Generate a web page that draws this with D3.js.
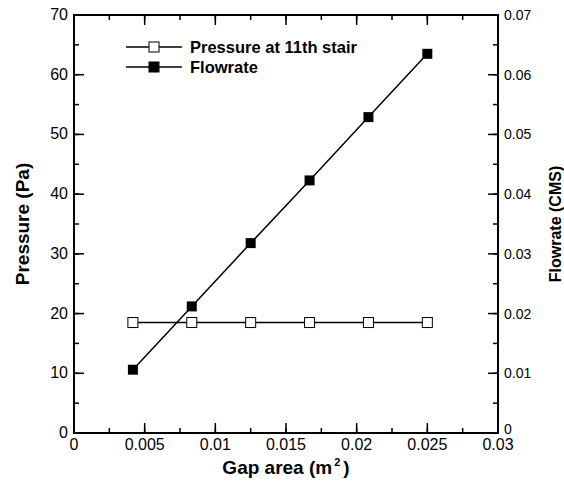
<!DOCTYPE html>
<html>
<head>
<meta charset="utf-8">
<script src="https://cdn.jsdelivr.net/npm/d3@7"></script>
<style>
  body { margin: 0; background: #fff; }
  svg { display: block; }
</style>
</head>
<body>
<div id="chart"></div>
<script>
  // Data
  var gapArea = [0.004167, 0.008333, 0.0125, 0.016667, 0.020833, 0.025];
  var pressure = [18.5, 18.5, 18.5, 18.5, 18.5, 18.5];
  var flowrate = [0.0106, 0.0212, 0.0318, 0.0423, 0.0529, 0.0635];
  var xTicks = [0, 0.005, 0.01, 0.015, 0.02, 0.025, 0.03];
  var yTicks = [0, 10, 20, 30, 40, 50, 60, 70];
  var y2Ticks = [0, 0.01, 0.02, 0.03, 0.04, 0.05, 0.06, 0.07];
  var seriesNames = ["Pressure at 11th stair", "Flowrate"];

  var W = 564, H = 483,
      margin = {top: 15, right: 66, bottom: 50, left: 74},
      width = W - margin.left - margin.right,
      height = H - margin.top - margin.bottom,
      font = "'Liberation Sans', Arial, Helvetica, sans-serif";

  var svg = d3.select("#chart").append("svg")
    .attr("width", W)
    .attr("height", H);

  var g = svg.append("g")
    .attr("transform", "translate(" + margin.left + "," + margin.top + ")");

  var x = d3.scaleLinear().domain([0, 0.03]).range([0, width]);
  var y = d3.scaleLinear().domain([0, 70]).range([height, 0]);
  var y2 = d3.scaleLinear().domain([0, 0.07]).range([height, 0]);

  // minor tick values
  var xMinor = d3.range(0, 13).map(function(i){ return i*0.0025; });
  var yMinor = d3.range(0, 15).map(function(i){ return i*5; });

  // ticks, drawn inward on all four sides
  function ticks(vals, len, side) {
    g.append("g").selectAll("line")
      .data(vals)
      .enter().append("line")
      .attr("x1", function(d){ return side == "b" || side == "t" ? x(d) : (side == "l" ? 0 : width); })
      .attr("x2", function(d){ return side == "b" || side == "t" ? x(d) : (side == "l" ? len : width - len); })
      .attr("y1", function(d){ return side == "l" || side == "r" ? y(d) : (side == "b" ? height : 0); })
      .attr("y2", function(d){ return side == "l" || side == "r" ? y(d) : (side == "b" ? height - len : len); })
      .attr("stroke", "#000")
      .attr("stroke-width", 1.5);
  }
  ticks(xMinor, 5, "b"); ticks(xTicks, 10, "b");
  ticks(xMinor, 5, "t"); ticks(xTicks, 10, "t");
  ticks(yMinor, 5, "l"); ticks(yTicks, 10, "l");
  ticks(yMinor, 5, "r"); ticks(yTicks, 10, "r");

  // frame
  g.append("rect")
    .attr("width", width)
    .attr("height", height)
    .attr("fill", "none")
    .attr("stroke", "#000")
    .attr("stroke-width", 2);

  // tick labels
  g.append("g").selectAll("text")
    .data(xTicks)
    .enter().append("text")
    .attr("x", function(d){ return x(d); })
    .attr("y", height + 17)
    .attr("text-anchor", "middle")
    .attr("font-family", font)
    .attr("font-size", 16)
    .text(function(d){ return d3.format("")(d); });

  g.append("g").selectAll("text")
    .data(yTicks)
    .enter().append("text")
    .attr("x", -6)
    .attr("y", function(d){ return y(d) + 5; })
    .attr("text-anchor", "end")
    .attr("font-family", font)
    .attr("font-size", 16)
    .text(function(d){ return d; });

  g.append("g").selectAll("text")
    .data(y2Ticks)
    .enter().append("text")
    .attr("x", width + 6)
    .attr("y", function(d){ return y2(d) + (d == 0 ? 1 : 5); })
    .attr("font-family", font)
    .attr("font-size", 14)
    .text(function(d){ return d3.format("")(+d.toFixed(2)); });

  // axis titles
  svg.append("text")
    .attr("transform", "translate(29," + (margin.top + height/2) + ") rotate(-90)")
    .attr("text-anchor", "middle")
    .attr("font-family", font)
    .attr("font-size", 19)
    .attr("font-weight", "bold")
    .text("Pressure (Pa)");

  svg.append("text")
    .attr("transform", "translate(561," + (margin.top + height/2) + ") rotate(-90)")
    .attr("text-anchor", "middle")
    .attr("font-family", font)
    .attr("font-size", 16)
    .attr("font-weight", "bold")
    .text("Flowrate (CMS)");

  var xt = svg.append("text")
    .attr("x", margin.left + width/2)
    .attr("y", 474)
    .attr("text-anchor", "middle")
    .attr("font-family", font)
    .attr("font-size", 19)
    .attr("font-weight", "bold");
  xt.append("tspan").text("Gap area (m");
  xt.append("tspan").attr("font-size", 11).attr("dy", -8).attr("dx", 2).text("2");
  xt.append("tspan").attr("dy", 8).attr("dx", 3).text(")");

  // series
  var line = d3.line();
  var pData = gapArea.map(function(d, i){ return [x(d), y(pressure[i])]; });
  var fData = gapArea.map(function(d, i){ return [x(d), y2(flowrate[i])]; });

  g.append("path").attr("d", line(pData)).attr("fill", "none").attr("stroke", "#000").attr("stroke-width", 1.5);
  g.append("path").attr("d", line(fData)).attr("fill", "none").attr("stroke", "#000").attr("stroke-width", 1.5);

  var ms = 10;
  g.append("g").selectAll("rect")
    .data(pData)
    .enter().append("rect")
    .attr("x", function(d){ return d[0] - ms/2; })
    .attr("y", function(d){ return d[1] - ms/2; })
    .attr("width", ms).attr("height", ms)
    .attr("fill", "#fff").attr("stroke", "#000").attr("stroke-width", 1);

  g.append("g").selectAll("rect")
    .data(fData)
    .enter().append("rect")
    .attr("x", function(d){ return d[0] - ms/2; })
    .attr("y", function(d){ return d[1] - ms/2; })
    .attr("width", ms).attr("height", ms)
    .attr("fill", "#000");

  // legend
  var legend = svg.append("g").attr("transform", "translate(126,47)");
  var rows = legend.selectAll("g")
    .data(seriesNames)
    .enter().append("g")
    .attr("transform", function(d, i){ return "translate(0," + (i*20) + ")"; });

  rows.append("line")
    .attr("x1", 0).attr("x2", 56).attr("y1", 0).attr("y2", 0)
    .attr("stroke", "#000").attr("stroke-width", 1.5);
  rows.append("rect")
    .attr("x", 28 - ms/2).attr("y", -ms/2)
    .attr("width", ms).attr("height", ms)
    .attr("fill", function(d, i){ return i == 0 ? "#fff" : "#000"; })
    .attr("stroke", "#000").attr("stroke-width", 1);
  rows.append("text")
    .attr("x", 64).attr("y", 6)
    .attr("font-family", font)
    .attr("font-size", 16.5)
    .attr("font-weight", "bold")
    .text(function(d){ return d; });
</script>
</body>
</html>
